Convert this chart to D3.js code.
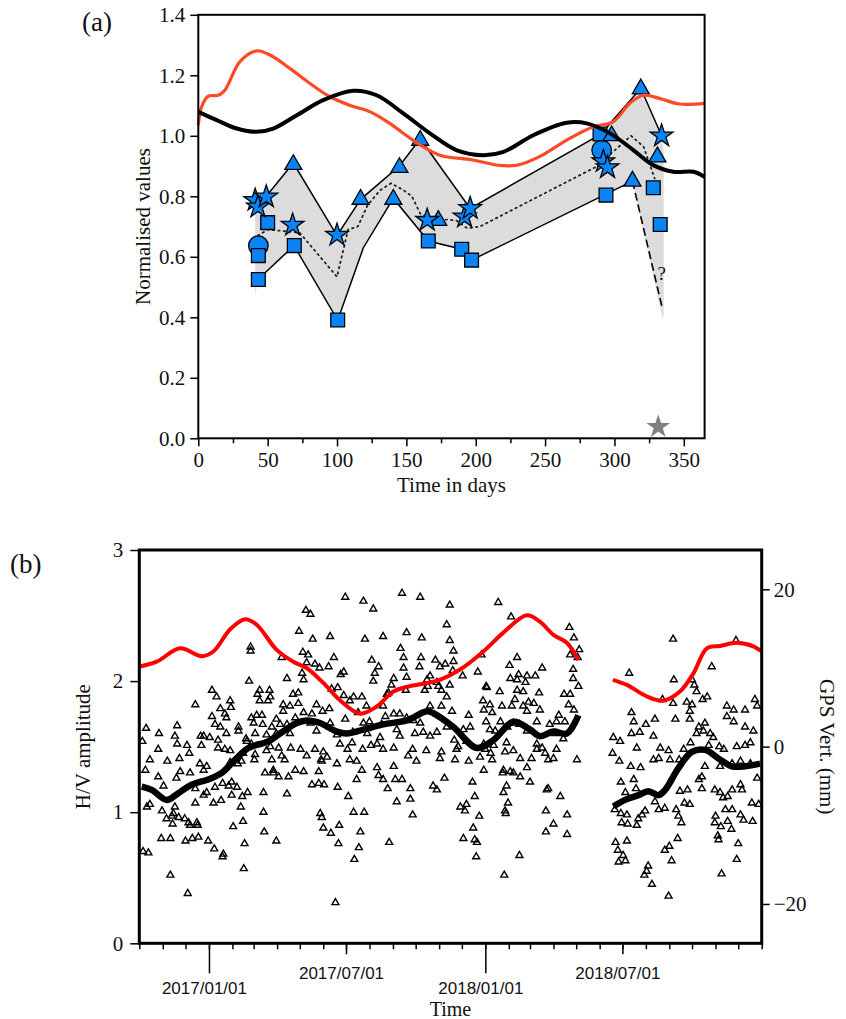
<!DOCTYPE html>
<html>
<head>
<meta charset="utf-8">
<script src="https://cdnjs.cloudflare.com/ajax/libs/d3/7.8.5/d3.min.js"></script>
<style>
body { margin: 0; background: #fff; }
svg text { font-family: "Liberation Serif", "Times New Roman", serif; fill: #111; }
</style>
</head>
<body>
<div class="chart"></div>
<script>
// ---------- panel (a): days / normalised values ----------
const aXTicks = [0, 50, 100, 150, 200, 250, 300, 350];
const aXMinor = [25, 75, 125, 175, 225, 275, 325];
const aYTicks = [0, 0.2, 0.4, 0.6, 0.8, 1.0, 1.2, 1.4];

const aRed = [[0,1.035],[2.4,1.096],[7.2,1.131],[14.4,1.134],[19.2,1.151],[30,1.245],[42,1.281],[51.7,1.267],[66,1.223],[80.5,1.173],[95,1.129],[109,1.101],[124,1.079],[138,1.041],[153,0.991],[162,0.964],[174,0.936],[198,0.92],[217,0.902],[230,0.903],[246,0.931],[265.6,0.986],[284.8,1.03],[299,1.046],[311,1.107],[320.8,1.134],[332.9,1.123],[347,1.105],[365,1.107]];
const aBlack = [[0,1.079],[13.3,1.052],[27.7,1.024],[42,1.013],[54,1.024],[71,1.068],[90,1.118],[111.8,1.149],[128.6,1.134],[147.8,1.074],[167,1.008],[186,0.953],[205.5,0.936],[220,0.947],[241.5,1.002],[265.6,1.043],[280,1.041],[296.8,1.008],[313.6,0.953],[328,0.903],[342.5,0.881],[357,0.881],[365,0.864]];

const aUpper = [[49,0.80],[68.5,0.91],[100,0.67],[117,0.79],[145,0.90],[160,0.99],[196,0.76],[290,1.005],[319,1.157],[334,1.0]];
const aLower = [[43,0.525],[69,0.637],[100.5,0.39],[119,0.63],[140.6,0.793],[165.8,0.652],[190,0.625],[197,0.589],[313,0.85]];
const aLowerDash = [[313,0.85],[334.5,0.43]];
const aMean = [[43,0.67],[50,0.69],[73,0.68],[100,0.534],[108,0.69],[115,0.70],[122,0.77],[131,0.82],[139,0.843],[148,0.82],[154,0.80],[160,0.743],[169,0.727],[186,0.72],[194,0.694],[203,0.70],[287,0.898],[312,1.0],[321,0.964],[329,0.859]];
const aBandTop = [[41,0.80],[49,0.80],[68.5,0.92],[100,0.67],[117,0.79],[145,0.90],[160,1.0],[196,0.76],[290,1.005],[319,1.16],[334,1.0],[335.5,0.95],[335.5,0.40]];
const aBandBottom = [[41,0.47],[43,0.525],[69,0.637],[100.5,0.39],[119,0.63],[140.6,0.793],[165.8,0.652],[190,0.625],[197,0.589],[313,0.85],[334.5,0.40]];

const aStars = [[41,0.787],[43,0.765],[49,0.798],[68,0.705],[100,0.672],[165,0.721],[192,0.732],[196,0.76],[292,0.915],[295,0.895],[334,1.0]];
const aTriangles = [[68.5,0.905],[117,0.79],[145,0.895],[140.6,0.79],[160,0.985],[173,0.72],[298,1.0],[319,1.155],[313,0.85],[331,0.93]];
const aSquares = [[50,0.713],[43.3,0.604],[43.3,0.525],[69.2,0.637],[100.5,0.391],[165.8,0.652],[189.9,0.625],[197,0.589],[289.6,1.006],[293.9,0.804],[328,0.828],[333,0.707]];
const aCircles = [[43.3,0.637],[290.8,0.953]];
const aGreyStar = [[331.6,0.038]];

// ---------- panel (b): days since 2016-10-01 ----------
const bYTicks = [0, 1, 2, 3];
const bGpsTicks = [-20, 0, 20];
const bJanTicks = ['2017-01-01', '2018-01-01'];
const bJulTicks = ['2017-07-01', '2018-07-01'];

const gpsSeg1 = [[0.9,10.2],[23,10.8],[53.8,12.5],[82.4,11.5],[97.8,12.1],[119.8,14.9],[139.6,16.2],[155,15.5],[181.5,12.3],[203.4,10.8],[221,10.0],[243,8.1],[265,5.9],[291.5,4.2],[313.6,5.1],[335.5,7.0],[353,7.6],[379.7,8.1],[397,8.5],[423.6,9.8],[454.4,12.1],[480.8,14.5],[511.8,16.7],[529,15.9],[547,14.2],[564.6,13.2],[580,11.0]];
const gpsSeg2 = [[625.4,8.5],[643.9,7.85],[670,6.4],[692,5.85],[714,7.0],[732,9.35],[749.5,12.5],[767,12.8],[789,13.2],[811,12.75],[822,12.1]];
const hvSmooth1 = [[3.2,1.195],[16.4,1.17],[36.2,1.094],[51.5,1.145],[69.2,1.21],[91.1,1.25],[108.9,1.30],[126.4,1.40],[144,1.49],[170.4,1.54],[185.9,1.60],[207.9,1.68],[221.1,1.70],[238.7,1.68],[260.8,1.615],[274,1.60],[295.9,1.63],[322.3,1.67],[353.2,1.70],[379.7,1.77],[388.4,1.755],[414.8,1.65],[445.7,1.49],[467.6,1.55],[494.1,1.69],[516.1,1.63],[529.3,1.58],[546.9,1.615],[564.6,1.60],[579.9,1.74]];
const hvSmooth2 = [[626.2,1.043],[641.6,1.094],[659.2,1.13],[672.4,1.16],[685.6,1.13],[694.5,1.17],[712,1.336],[729.7,1.46],[747.3,1.475],[764.9,1.41],[782.6,1.35],[800.1,1.35],[819.9,1.37]];

const hvPoints = [
[272,2.64],[296,2.61],[309,2.55],[347,2.67],[371,2.64],[220,2.54],[226,2.51],[211,2.38],[229,2.32],[252,2.34],[298,2.32],[322,2.34],[353,2.37],[373,2.33],[147,2.26],[147,2.23],[188,2.18],[216,2.22],[223,2.20],[257,2.18],[345,2.25],[349,2.18],[372,2.18],[221,2.14],[232,2.13],[238,2.10],[250,2.11],[270,2.07],[266,2.05],[307,2.16],[316,2.11],[349,2.10],[370,2.11],[215,2.06],[311,2.06],[353,2.03],[145,2.00],[195,2.02],[217,2.01],[309,2.00],[336,2.02],[333,1.97],[380,2.01],[96,1.93],[159,1.93],[172,1.93],[254,1.94],[262,1.95],[329,1.91],[352,1.93],[377,1.93],[102,1.88],[156,1.90],[173,1.88],[203,1.90],[210,1.91],[270,1.89],[283,1.88],[294,1.88],[327,1.90],[74,1.82],[120,1.85],[159,1.85],[170,1.85],[190,1.82],[199,1.81],[210,1.83],[234,1.82],[278,1.85],[300,1.81],[322,1.81],[107,1.79],[121,1.80],[190,1.77],[217,1.76],[228,1.75],[242,1.77],[251,1.79],[289,1.76],[336,1.75],[344,1.75],[96,1.73],[113,1.75],[115,1.72],[148,1.72],[155,1.74],[162,1.74],[181,1.71],[206,1.72],[272,1.71],[304,1.69],[325,1.73],[353,1.72],[362,1.70],[9,1.64],[50,1.66],[100,1.67],[107,1.65],[131,1.65],[151,1.68],[163,1.67],[175,1.65],[186,1.67],[195,1.67],[226,1.68],[252,1.68],[296,1.68],[320,1.67],[371,1.68],[26,1.60],[47,1.58],[81,1.58],[85,1.58],[93,1.57],[104,1.55],[115,1.60],[131,1.62],[141,1.56],[153,1.60],[168,1.59],[181,1.60],[199,1.60],[234,1.62],[261,1.59],[282,1.61],[301,1.60],[318,1.57],[340,1.63],[344,1.58],[364,1.60],[375,1.61],[4,1.54],[50,1.52],[63,1.51],[82,1.51],[104,1.49],[113,1.48],[142,1.54],[148,1.52],[173,1.50],[184,1.49],[200,1.49],[213,1.48],[232,1.48],[243,1.46],[265,1.52],[281,1.53],[306,1.51],[314,1.52],[336,1.49],[361,1.48],[25,1.48],[66,1.45],[120,1.47],[137,1.45],[153,1.44],[168,1.47],[188,1.43],[221,1.43],[240,1.40],[248,1.42],[275,1.48],[295,1.48],[322,1.48],[355,1.43],[14,1.40],[53,1.41],[80,1.37],[89,1.35],[120,1.38],[130,1.37],[135,1.39],[152,1.40],[175,1.40],[192,1.40],[241,1.39],[261,1.37],[278,1.40],[287,1.39],[336,1.35],[366,1.39],[8,1.32],[37,1.39],[54,1.31],[67,1.30],[85,1.32],[177,1.32],[206,1.32],[217,1.31],[237,1.31],[294,1.32],[314,1.34],
[32,1.20],[49,1.26],[74,1.18],[100,1.19],[110,1.22],[118,1.20],[129,1.19],[164,1.15],[195,1.14],[228,1.21],[237,1.22],[244,1.21],[262,1.19],[276,1.12],[328,1.18],[358,1.18],[388,1.20],[393,1.17],[403,1.26],[347,1.25],[338,1.25],[322,1.25],[316,1.28],[287,1.25],[85,1.13],[89,1.15],[122,1.13],[136,1.12],[143,1.15],[74,1.07],[98,1.07],[108,1.09],[134,1.04],[14,1.06],[10,1.04],[47,1.04],[30,1.01],[36,0.95],[43,0.97],[45,0.99],[52,0.96],[60,0.95],[44,0.91],[65,0.92],[67,0.90],[76,0.92],[77,0.90],[124,0.89],[137,0.93],[164,1.00],[165,0.85],[239,0.99],[241,0.96],[243,0.88],[253,0.84],[264,0.90],[283,1.00],[297,1.00],[292,0.85],[340,1.08],[358,1.10],[361,0.98],[29,0.80],[41,0.80],[61,0.78],[70,0.80],[78,0.81],[91,0.78],[99,0.72],[111,0.68],[110,0.66],[139,0.76],[181,0.78],[263,0.76],[290,0.73],[330,0.77],[5,0.70],[12,0.69],[284,0.64],[138,0.57],[41,0.52],[64,0.38],[259,0.31],[25,1.27],[197,1.27],[184,1.27],[177,1.30],[166,1.30],[122,1.23],
[440,1.23],[443,1.12],[424,1.04],[430,1.01],[432,1.06],[449,0.97],[441,0.88],[428,0.80],[443,0.79],[446,0.77],[445,0.66],[485,1.20],[481,1.15],[487,1.07],[483,1.01],[484,0.99],[502,0.67],[482,0.52],[538,1.17],[540,1.18],[556,1.12],[537,1.01],[565,0.98],[547,0.91],[537,0.85],[565,0.83],[516,1.23],[480,1.30],[494,1.30],[503,1.27],
[410,2.58],[474,2.60],[491,2.49],[406,2.43],[568,2.41],[574,2.33],[410,2.31],[581,2.24],[415,2.23],[569,2.20],[579,2.18],[452,2.20],[499,2.18],[391,2.16],[397,2.11],[404,2.13],[415,2.15],[414,2.08],[427,2.04],[447,2.07],[489,2.12],[501,2.05],[512,2.04],[523,2.04],[532,2.10],[490,2.02],[499,2.01],[510,1.99],[499,1.93],[507,1.92],[476,1.92],[458,1.96],[459,1.95],[573,2.09],[573,2.02],[580,1.96],[381,1.96],[384,2.04],[393,1.99],[395,1.96],[399,1.93],[406,1.88],[410,1.97],[561,1.90],[569,1.90],[567,1.82],[574,1.78],[528,1.91],[454,1.85],[463,1.82],[479,1.81],[466,1.76],[455,1.78],[492,1.81],[496,1.86],[514,1.84],[521,1.83],[507,1.81],[512,1.77],[529,1.78],[554,1.74],[551,1.69],[562,1.69],[542,1.67],[399,1.81],[413,1.77],[435,1.74],[384,1.81],[406,1.65],[437,1.65],[458,1.69],[477,1.69],[494,1.68],[525,1.69],[502,1.67],[384,1.58],[393,1.61],[428,1.63],[463,1.63],[470,1.62],[486,1.65],[512,1.62],[549,1.60],[560,1.56],[416,1.55],[421,1.50],[432,1.54],[455,1.52],[468,1.51],[485,1.53],[525,1.52],[532,1.49],[379,1.47],[399,1.46],[419,1.48],[457,1.48],[464,1.45],[483,1.46],[494,1.47],[525,1.48],[536,1.45],[551,1.48],[578,1.40],[397,1.41],[417,1.40],[435,1.39],[450,1.42],[466,1.40],[503,1.41],[518,1.41],[540,1.40],[547,1.41],[455,1.32],[481,1.32],[512,1.34],[490,1.31],
[647,2.06],[705,2.32],[788,2.31],[756,2.11],[706,2.01],[730,2.01],[733,1.97],[691,1.86],[705,1.83],[723,1.84],[736,1.92],[750,1.88],[744,1.86],[730,1.82],[813,1.86],[816,1.81],[776,1.81],[785,1.78],[800,1.78],[650,1.76],[653,1.69],[661,1.61],[681,1.71],[708,1.71],[727,1.77],[727,1.71],[739,1.65],[747,1.68],[626,1.57],[635,1.54],[650,1.60],[657,1.49],[669,1.67],[679,1.58],[688,1.49],[699,1.47],[719,1.48],[728,1.53],[736,1.60],[745,1.62],[754,1.60],[758,1.57],[752,1.51],[766,1.50],[772,1.48],[789,1.50],[800,1.51],[807,1.53],[776,1.73],[785,1.69],[800,1.65],[811,1.62],[625,1.45],[634,1.39],[649,1.35],[662,1.34],[679,1.40],[686,1.41],[701,1.40],[713,1.40],[747,1.35],[767,1.35],[783,1.37],[794,1.39],[807,1.37],
[636,1.23],[653,1.25],[642,1.15],[656,1.18],[628,1.02],[636,0.99],[644,0.98],[637,0.92],[645,0.91],[657,0.90],[659,0.95],[664,0.98],[668,1.01],[681,1.08],[686,1.02],[694,1.03],[709,1.02],[712,0.97],[716,0.92],[720,1.07],[727,1.06],[714,1.16],[724,1.17],[743,1.18],[739,1.25],[760,1.17],[767,1.15],[771,1.11],[777,1.12],[783,1.17],[794,1.21],[796,1.17],[809,1.07],[818,1.06],[761,0.97],[760,0.92],[768,0.89],[774,1.02],[777,0.93],[783,1.02],[782,0.87],[794,0.98],[798,0.94],[810,0.93],[629,0.77],[644,0.78],[632,0.71],[639,0.67],[642,0.63],[633,0.62],[672,0.59],[670,0.55],[667,0.52],[677,0.45],[699,0.36],[694,0.71],[700,0.74],[711,0.80],[703,0.63],[764,0.82],[765,0.79],[791,0.76],[789,0.64],[769,0.53],[816,1.26],[743,1.27]
];

document.addEventListener('DOMContentLoaded', () => {

const w = 846, h = 1019;
const blue = '#0a84f5';

const svg = d3.select('.chart')
              .append('svg')
              .attr('width', w)
              .attr('height', h);

// ================= panel (a) =================
const xA = d3.scaleLinear().domain([0, 365]).range([198.3, 704.6]);
const yA = d3.scaleLinear().domain([0, 1.4]).range([438.3, 14.8]);
const lineA = d3.line().x(d => xA(d[0])).y(d => yA(d[1]));
const smoothA = d3.line().x(d => xA(d[0])).y(d => yA(d[1])).curve(d3.curveCatmullRom);

const ga = svg.append('g');

// grey band
ga.append('path')
  .attr('d', lineA(aBandTop.concat(aBandBottom.slice().reverse())) + 'Z')
  .attr('fill', '#dcdcdc')
  .attr('stroke', 'none');

ga.append('path').attr('d', lineA(aUpper))
  .attr('fill', 'none').attr('stroke', '#000').attr('stroke-width', 1.5);
ga.append('path').attr('d', lineA(aLower))
  .attr('fill', 'none').attr('stroke', '#000').attr('stroke-width', 1.5);
ga.append('path').attr('d', lineA(aLowerDash))
  .attr('fill', 'none').attr('stroke', '#000').attr('stroke-width', 1.6)
  .attr('stroke-dasharray', '8,4');
ga.append('path').attr('d', lineA(aMean))
  .attr('fill', 'none').attr('stroke', '#222').attr('stroke-width', 1.8)
  .attr('stroke-dasharray', '1.5,4').attr('stroke-linecap', 'round');

ga.append('text')
  .attr('x', xA(334)).attr('y', yA(0.545) + 7)
  .attr('text-anchor', 'middle')
  .style('font-size', '19px')
  .text('?');

const marker = (data, type, size, fill) => {
  ga.selectAll(null)
    .data(data)
    .enter()
    .append('path')
    .attr('d', d3.symbol(type, size))
    .attr('transform', d => `translate(${xA(d[0])},${yA(d[1])})`)
    .attr('fill', fill)
    .attr('stroke', fill === blue ? '#000' : 'none')
    .attr('stroke-width', 1.3);
};
marker(aCircles, d3.symbolCircle, 300, blue);
marker(aSquares, d3.symbolSquare, 190, blue);
marker(aTriangles, d3.symbolTriangle, 125, blue);
marker(aStars, d3.symbolStar, 160, blue);
marker(aGreyStar, d3.symbolStar, 175, '#808080');

ga.append('path').attr('d', smoothA(aRed))
  .attr('fill', 'none').attr('stroke', '#ff4a28').attr('stroke-width', 3.2);
ga.append('path').attr('d', smoothA(aBlack))
  .attr('fill', 'none').attr('stroke', '#000').attr('stroke-width', 4);

// axes (a)
const styleAxis = (g, size) => {
  g.select('.domain').remove();
  g.selectAll('line').attr('stroke', '#000').attr('stroke-width', 1.5);
  g.selectAll('text')
   .style('font-family', '"Liberation Serif", "Times New Roman", serif')
   .style('font-size', size + 'px')
   .attr('fill', '#111');
};

ga.append('g')
  .attr('transform', `translate(0,${yA(0)})`)
  .call(d3.axisBottom(xA).tickValues(aXMinor).tickSize(5).tickFormat(''))
  .call(g => styleAxis(g, 20));
ga.append('g')
  .attr('transform', `translate(0,${yA(0)})`)
  .call(d3.axisBottom(xA).tickValues(aXTicks).tickSize(8).tickPadding(6).tickFormat(d3.format('d')))
  .call(g => styleAxis(g, 21));
ga.append('g')
  .attr('transform', `translate(${xA(0)},0)`)
  .call(d3.axisLeft(yA).tickValues(aYTicks).tickSize(8).tickPadding(5).tickFormat(d3.format('.1f')))
  .call(g => styleAxis(g, 21));

ga.append('rect')
  .attr('x', xA(0)).attr('y', yA(1.4))
  .attr('width', xA(365) - xA(0)).attr('height', yA(0) - yA(1.4))
  .attr('fill', 'none').attr('stroke', '#000').attr('stroke-width', 2);

ga.append('text')
  .attr('x', (xA(0) + xA(365)) / 2).attr('y', 492)
  .attr('text-anchor', 'middle')
  .style('font-size', '21px')
  .text('Time in days');
ga.append('text')
  .attr('transform', `translate(150,${(yA(0) + yA(1.4)) / 2}) rotate(-90)`)
  .attr('text-anchor', 'middle')
  .style('font-size', '21px')
  .text('Normalised values');
ga.append('text')
  .attr('x', 82).attr('y', 31)
  .style('font-size', '27px')
  .text('(a)');

// ================= panel (b) =================
const t0 = Date.UTC(2016, 9, 1);
const toDate = d => new Date(t0 + d * 864e5);
const xB = d3.scaleUtc()
             .domain([new Date(t0), new Date(Date.UTC(2019, 0, 1))])
             .range([139.3, 761.7]);
const yB = d3.scaleLinear().domain([0, 3]).range([943.3, 550]);
const yGps = d3.scaleLinear().domain([-25, 25]).range([943.3, 550]);

const gb = svg.append('g');

gb.selectAll(null)
  .data(hvPoints)
  .enter()
  .append('path')
  .attr('d', d3.symbol(d3.symbolTriangle, 21))
  .attr('transform', d => `translate(${xB(toDate(d[0]))},${yB(d[1])})`)
  .attr('fill', 'none')
  .attr('stroke', '#000')
  .attr('stroke-width', 1.4);

const hvLine = d3.line().x(d => xB(toDate(d[0]))).y(d => yB(d[1])).curve(d3.curveCatmullRom);
const gpsLine = d3.line().x(d => xB(toDate(d[0]))).y(d => yGps(d[1])).curve(d3.curveCatmullRom);

[hvSmooth1, hvSmooth2].forEach(s => {
  gb.append('path').attr('d', hvLine(s))
    .attr('fill', 'none').attr('stroke', '#000').attr('stroke-width', 6.5)
    .attr('stroke-linejoin', 'round');
});
[gpsSeg1, gpsSeg2].forEach(s => {
  gb.append('path').attr('d', gpsLine(s))
    .attr('fill', 'none').attr('stroke', '#ff0000').attr('stroke-width', 4);
});

// axes (b)
const months = d3.utcMonth.range(new Date(t0), new Date(Date.UTC(2019, 0, 2)));
gb.append('g')
  .attr('transform', `translate(0,${yB(0)})`)
  .call(d3.axisBottom(xB).tickValues(months).tickSize(6).tickFormat(''))
  .call(g => styleAxis(g, 17));

const dateFmt = d3.utcFormat('%Y/%m/%d');
const dateAxis = (ticks, size, pad) => {
  gb.append('g')
    .attr('transform', `translate(0,${yB(0)})`)
    .call(d3.axisBottom(xB).tickValues(ticks.map(s => new Date(s + 'T00:00:00Z')))
            .tickSize(size).tickPadding(pad).tickFormat(dateFmt))
    .call(g => {
      styleAxis(g, 17);
      g.selectAll('text')
       .style('font-family', '"Liberation Sans", Arial, sans-serif')
       .attr('x', -5);
    });
};
dateAxis(bJulTicks, 11, 13);
dateAxis(bJanTicks, 30, 9);

gb.append('g')
  .attr('transform', `translate(${xB.range()[0]},0)`)
  .call(d3.axisLeft(yB).tickValues(bYTicks).tickSize(9).tickPadding(7).tickFormat(d3.format('d')))
  .call(g => styleAxis(g, 21));
gb.append('g')
  .attr('transform', `translate(${xB.range()[1]},0)`)
  .call(d3.axisRight(yGps).tickValues(bGpsTicks).tickSize(8).tickPadding(4).tickFormat(d3.format('d')))
  .call(g => styleAxis(g, 21));

gb.append('rect')
  .attr('x', xB.range()[0]).attr('y', yB(3))
  .attr('width', xB.range()[1] - xB.range()[0]).attr('height', yB(0) - yB(3))
  .attr('fill', 'none').attr('stroke', '#000').attr('stroke-width', 3);

gb.append('text')
  .attr('x', (xB.range()[0] + xB.range()[1]) / 2).attr('y', 1016)
  .attr('text-anchor', 'middle')
  .style('font-size', '20px')
  .text('Time');
gb.append('text')
  .attr('transform', `translate(90,${(yB(0) + yB(3)) / 2}) rotate(-90)`)
  .attr('text-anchor', 'middle')
  .style('font-size', '21px')
  .text('H/V amplitude');
gb.append('text')
  .attr('transform', `translate(820,${(yB(0) + yB(3)) / 2}) rotate(90)`)
  .attr('text-anchor', 'middle')
  .style('font-size', '21px')
  .text('GPS Vert. (mm)');
gb.append('text')
  .attr('x', 10).attr('y', 573)
  .style('font-size', '27px')
  .text('(b)');

});
</script>
</body>
</html>
